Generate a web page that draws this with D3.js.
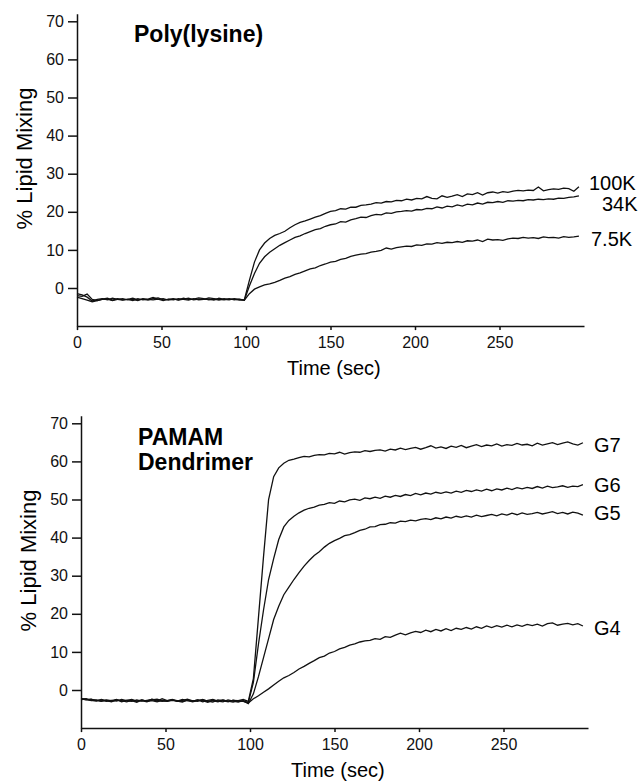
<!DOCTYPE html>
<html>
<head>
<meta charset="utf-8">
<script src="https://cdn.jsdelivr.net/npm/d3@7"></script>
<style>
  body { margin: 0; background: #fff; }
  svg { display: block; font-family: "Liberation Sans", Arial, sans-serif; }
  .axis path, .axis line { stroke: #111; stroke-width: 1.5; }
  .axis text { font-size: 16px; fill: #111; }
  .trace { fill: none; stroke: #111; stroke-width: 1.3; }
</style>
</head>
<body>
<script>
// sample times (sec), one reading every 3 s
const times = d3.range(0, 300, 3);

const xTicks = [0, 50, 100, 150, 200, 250];
const yTicks = [0, 10, 20, 30, 40, 50, 60, 70];

// Poly(lysine) panel
const lysineNames = ["100K", "34K", "7.5K"];
const lys100K = [-1.5,-1.8,-2.4,-3.4,-3.0,-2.8,-3.1,-2.7,-3.0,-3.2,
  -2.9,-3.3,-2.8,-3.1,-2.9,-2.5,-3.0,-2.8,-3.2,-2.9,
  -3.1,-2.7,-3.0,-2.9,-2.6,-2.8,-3.1,-2.9,-3.2,-2.8,
  -3.0,-2.9,-3.2,-3.1,
  2.0,6.8,10.0,11.8,13.0,13.8,
  14.3,14.9,15.8,16.6,17.2,17.6,18.1,18.6,19.0,19.6,
  20.1,20.3,20.8,20.7,21.2,21.2,21.7,21.8,22.0,22.4,
  22.3,22.7,22.6,23.0,22.9,23.3,23.1,23.5,23.4,24.0,
  23.5,23.4,24.2,23.8,24.1,24.5,24.0,24.7,24.5,25.0,
  24.4,25.0,25.2,24.9,25.3,25.1,25.4,25.6,25.5,25.7,
  25.6,26.5,25.5,25.8,26.0,25.9,26.2,26.1,25.4,26.6];
const lys34K = [-2.0,-2.2,-1.6,-3.0,-3.3,-2.9,-2.7,-3.2,-2.8,-3.1,
  -3.0,-2.7,-3.1,-2.9,-3.2,-2.8,-2.6,-3.1,-3.0,-2.8,
  -3.2,-2.9,-2.7,-3.1,-2.9,-3.0,-2.6,-2.8,-3.0,-3.1,
  -2.8,-3.1,-2.9,-3.2,
  0.5,3.8,6.5,8.2,9.4,10.3,
  11.2,11.9,12.6,13.3,13.7,14.3,14.8,15.3,15.6,16.2,
  16.6,16.8,17.4,17.3,17.9,18.2,18.6,18.5,19.0,19.3,
  19.2,19.7,19.6,20.0,20.1,20.3,20.2,20.6,20.5,20.9,
  20.8,21.3,21.0,21.5,21.3,21.8,21.5,22.0,21.8,22.3,
  22.0,22.5,22.4,22.7,22.5,22.9,22.8,23.0,22.9,23.2,
  23.1,23.3,23.2,23.4,23.3,23.6,23.5,23.8,23.9,24.2];
const lys7_5K = [-2.4,-2.8,-3.2,-3.6,-3.3,-3.0,-2.9,-3.3,-3.0,-2.8,
  -3.1,-3.0,-3.3,-2.8,-3.0,-3.1,-2.9,-3.3,-2.9,-3.1,
  -2.8,-3.0,-3.2,-2.8,-3.1,-3.0,-2.9,-3.2,-2.7,-3.0,
  -3.1,-2.8,-3.0,-3.2,
  -1.5,-0.3,0.3,0.8,1.1,1.5,
  2.0,2.6,3.0,3.6,4.0,4.5,5.0,5.3,5.9,6.3,
  6.8,7.0,7.5,7.8,8.3,8.6,8.9,9.0,9.4,9.6,
  9.9,10.5,10.2,10.6,10.8,11.0,10.9,11.3,11.2,11.6,
  11.5,11.9,11.7,12.0,11.9,12.2,12.0,12.4,12.3,12.6,
  12.2,12.8,12.6,12.7,12.5,12.9,13.1,13.0,13.3,13.1,
  13.2,13.0,13.4,13.2,13.3,13.1,13.5,13.3,13.4,13.6];

// PAMAM dendrimer panel
const pamamNames = ["G7", "G6", "G5", "G4"];
const g7 = [-2.2,-2.5,-2.4,-2.8,-2.6,-3.0,-2.7,-2.9,-2.5,-2.8,
  -3.0,-2.6,-2.9,-2.7,-2.5,-2.9,-2.3,-2.8,-2.6,-3.0,
  -2.7,-2.4,-2.9,-2.6,-3.1,-2.7,-2.5,-2.9,-2.6,-3.0,
  -2.7,-2.8,-2.5,-3.0,
  3.0,19.0,35.0,50.0,56.0,58.3,
  59.5,60.3,60.6,61.0,61.3,61.2,61.6,61.8,61.7,62.1,
  62.0,62.4,61.9,62.3,62.5,62.4,62.8,62.6,62.9,63.0,
  62.7,63.2,63.0,63.5,63.1,63.4,63.7,63.2,63.6,64.1,
  63.5,63.8,63.4,64.0,63.7,64.2,63.6,64.0,64.4,63.9,
  64.3,64.1,64.6,64.0,64.4,64.2,64.7,64.3,64.5,64.1,
  64.8,64.3,64.6,64.9,64.4,64.8,65.1,64.6,64.3,64.9];
const g6 = [-2.4,-2.3,-2.7,-2.9,-2.5,-2.8,-3.1,-2.6,-2.9,-2.7,
  -2.5,-2.9,-2.8,-3.1,-2.6,-2.4,-2.8,-3.0,-2.7,-2.9,
  -2.5,-2.8,-3.0,-2.6,-2.8,-3.2,-2.7,-2.9,-3.1,-2.6,
  -2.9,-3.2,-2.8,-3.3,
  2.0,12.0,21.0,29.0,34.5,39.5,
  42.8,44.5,45.6,46.5,47.2,47.7,48.0,48.5,48.7,49.2,
  49.0,49.6,49.4,49.9,50.1,49.8,50.4,50.2,50.6,50.3,
  50.9,50.6,51.1,50.8,51.3,51.0,51.6,51.2,51.7,51.4,
  51.9,51.6,52.0,51.7,52.2,51.9,52.4,52.1,52.5,52.2,
  52.7,52.3,52.8,52.5,53.0,52.6,53.1,52.8,53.2,52.9,
  53.4,53.0,53.5,53.1,53.3,53.6,53.2,53.5,53.4,53.9];
const g5 = [-2.3,-2.6,-2.5,-2.7,-3.0,-2.6,-2.8,-2.5,-3.1,-2.7,
  -2.8,-3.2,-2.6,-2.9,-2.4,-2.7,-3.0,-2.8,-2.5,-2.9,
  -3.2,-2.6,-2.8,-3.0,-2.5,-2.9,-3.2,-2.6,-2.8,-3.1,
  -2.7,-3.0,-2.9,-3.6,
  -1.0,3.5,8.5,13.5,18.5,22.0,
  25.0,27.0,29.0,30.8,32.5,34.0,35.3,36.3,37.5,38.5,
  39.2,39.8,40.5,40.8,41.3,41.9,42.2,42.8,42.9,43.4,
  43.5,43.9,43.8,44.3,44.2,44.6,44.4,44.8,45.0,44.7,
  45.2,44.9,45.4,45.1,45.6,45.3,45.7,45.4,45.9,45.5,
  45.8,46.1,45.7,46.2,45.9,46.4,46.0,46.5,46.1,46.3,
  46.6,46.2,46.5,46.8,46.3,46.6,46.2,46.7,46.4,45.9];
const g4 = [-2.5,-2.4,-2.8,-2.6,-2.9,-2.7,-3.0,-2.6,-2.8,-3.1,
  -2.7,-2.9,-2.6,-3.0,-2.8,-3.1,-2.7,-2.9,-2.6,-2.8,
  -3.0,-2.7,-3.1,-2.8,-2.6,-3.0,-2.8,-3.1,-2.7,-2.9,
  -3.2,-2.8,-3.0,-3.4,
  -2.3,-1.5,-0.6,0.3,1.3,2.3,
  3.2,3.8,4.6,5.5,6.2,7.0,7.7,8.5,8.9,9.7,
  10.1,10.8,11.2,11.8,12.1,12.6,12.9,13.0,13.5,13.3,
  14.0,13.8,14.4,14.9,14.5,15.0,15.4,15.1,15.7,15.3,
  15.9,15.5,16.1,15.6,16.2,15.9,16.4,16.0,16.6,16.2,
  16.8,16.4,16.9,16.5,17.0,16.6,17.1,16.7,17.2,16.9,
  17.3,16.8,17.4,17.6,17.0,17.3,17.5,17.1,17.4,16.8];

const svg = d3.select("body")
  .append("svg")
  .attr("width", 640)
  .attr("height", 781);

function drawPanel(p) {
  const xScale = d3.scaleLinear().domain([0, 300]).range([p.left, p.left + 507]);
  const yScale = d3.scaleLinear().domain([-10, 72]).range([p.zero + 10 * 3.81, p.zero - 72 * 3.81]);

  const xAxis = d3.axisBottom(xScale).tickValues(xTicks).tickSize(4).tickSizeOuter(0).tickPadding(7);
  const yAxis = d3.axisLeft(yScale).tickValues(yTicks).tickSize(9).tickSizeOuter(0).tickPadding(4);

  svg.append("g")
    .attr("class", "axis")
    .attr("transform", "translate(0," + yScale(-10) + ")")
    .call(xAxis);
  svg.append("g")
    .attr("class", "axis")
    .attr("transform", "translate(" + p.left + ",0)")
    .call(yAxis);

  const lineGen = d3.line()
    .x((d, i) => xScale(times[i]))
    .y((d) => yScale(d));

  p.series.forEach((s, i) => {
    svg.append("path").attr("class", "trace").attr("d", lineGen(s));
    svg.append("text")
      .attr("x", p.labelX[i])
      .attr("y", yScale(p.labelAt[i]))
      .attr("dy", "0.35em")
      .style("font-size", "20px")
      .text(p.names[i]);
  });

  // axis titles
  svg.append("text")
    .attr("transform", "translate(" + (p.left - 45) + "," + yScale(p.ylabelAt) + ") rotate(-90)")
    .attr("text-anchor", "middle")
    .style("font-size", "22px")
    .text("% Lipid Mixing");
  svg.append("text")
    .attr("x", xScale(152))
    .attr("y", yScale(-10) + 49)
    .attr("text-anchor", "middle")
    .style("font-size", "20px")
    .text("Time (sec)");

  // panel title
  const title = svg.append("text")
    .attr("x", p.left + 57)
    .attr("y", p.titleY)
    .style("font-size", "23px")
    .style("font-weight", "bold");
  p.title.forEach((line, i) => {
    title.append("tspan").attr("x", p.left + 57).attr("dy", i === 0 ? 0 : 25).text(line);
  });
}

drawPanel({
  left: 77, zero: 288, titleY: 42,
  title: ["Poly(lysine)"],
  series: [lys100K, lys34K, lys7_5K],
  names: lysineNames,
  labelX: [589, 602, 591],
  labelAt: [27.6, 22.1, 12.9],
  ylabelAt: 34
});

drawPanel({
  left: 81, zero: 690, titleY: 445,
  title: ["PAMAM", "Dendrimer"],
  series: [g7, g6, g5, g4],
  names: pamamNames,
  labelX: [594, 594, 594, 594],
  labelAt: [64.3, 53.8, 46.5, 16.3],
  ylabelAt: 34
});
</script>
</body>
</html>
